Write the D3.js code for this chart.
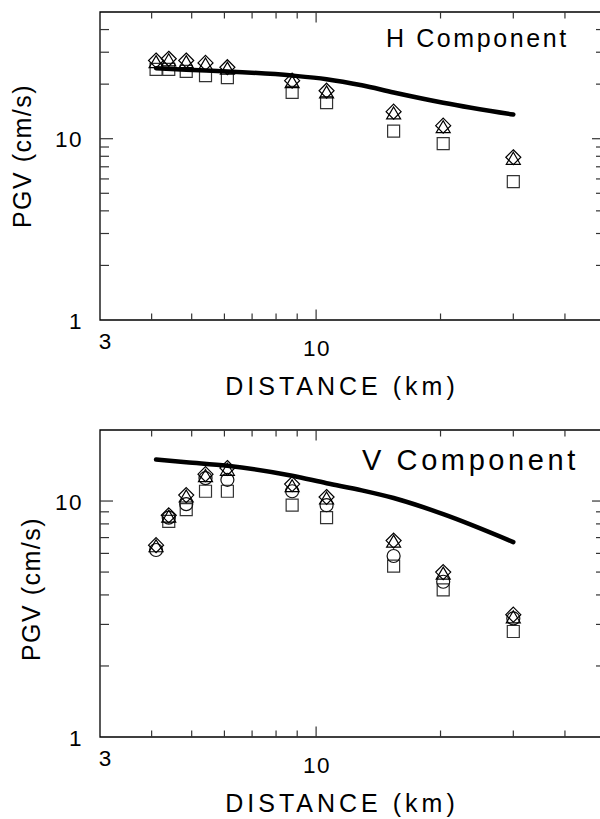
<!DOCTYPE html>
<html>
<head>
<meta charset="utf-8">
<script src="https://cdn.jsdelivr.net/npm/d3@7"></script>
<style>
  html, body { margin: 0; padding: 0; background: #fff; }
  svg { display: block; font-family: "Liberation Sans", Arial, sans-serif; }
</style>
</head>
<body>
<svg id="chart"></svg>
<script>
// station distances (km), shared by both panels
const distance = [4.1, 4.4, 4.85, 5.4, 6.1, 8.75, 10.6, 15.4, 20.3, 30.0]

// H component (cm/s)
const hDiamond  = [27.0, 27.6, 27.0, 26.2, 24.8, 20.9, 18.4, 14.1, 11.8, 7.9]
const hTriangle = [26.3, 26.9, 26.3, 25.5, 24.2, 20.4, 17.9, 13.7, 11.5, 7.7]
const hSquare   = [24.1, 24.1, 23.5, 22.3, 21.7, 18.0, 15.8, 11.0, 9.4, 5.8]

// V component (cm/s)
const vDiamond  = [6.5, 8.7, 10.6, 13.0, 13.8, 11.8, 10.4, 6.8, 5.0, 3.3]
const vTriangle = [6.4, 8.55, 10.4, 12.7, 13.5, 11.5, 10.2, 6.7, 4.9, 3.2]
const vCircle   = [6.2, 8.5, 9.7, 12.5, 12.3, 11.0, 9.6, 5.85, 4.55, 3.18]
const vSquare   = [null, 8.2, 9.2, 11.0, 11.0, 9.6, 8.5, 5.3, 4.2, 2.8]

// model curves
const curveDist = [4.1, 4.85, 6.1, 8.75, 10.6, 12.9, 15.4, 20.3, 30.0]
const hCurve = [24.5, 24.0, 23.5, 22.3, 21.3, 19.7, 18.0, 15.8, 13.6]
const vCurve = [15.0, 14.6, 14.1, 12.8, 11.9, 11.1, 10.3, 8.8, 6.7]

const xMinorTicks = [4, 5, 6, 7, 8, 9, 20, 30, 40]
const xMajorTicks = [10]
const xTickLabels = ['3', '10']
const hYMinorTicks = [2, 3, 4, 5, 6, 7, 8, 9, 20, 30, 40]
const vYMinorTicks = [2, 3, 4, 5, 6, 7, 8, 9]
const yMajorTicks = [10]
const yTickLabels = ['1', '10']

const width = 600
const height = 819

const svg = d3.select('svg#chart')
  .attr('width', width)
  .attr('height', height)

const x = d3.scaleLog().domain([3, 50]).range([100, 605])

const shapes = {
  diamond: 'M0,-7.5L7.5,0L0,7.5L-7.5,0Z',
  square: 'M-6,-6H6V6H-6Z',
  triangle: 'M0,-7L7,5L-7,5Z'
}

function panel(opts) {
  const y = d3.scaleLog().domain([1, opts.yMax]).range([opts.bottom, opts.top])
  const g = svg.append('g')
  const left = x.range()[0], right = x.range()[1]

  // frame
  g.append('path')
    .attr('d', `M${right},${opts.top}H${left}V${opts.bottom}H${right}`)
    .attr('fill', 'none')
    .attr('stroke', '#000')
    .attr('stroke-width', 1.3)

  // y ticks, left and right, inward
  const yt = opts.yMinor.map(v => ({ v, len: 9 })).concat(yMajorTicks.map(v => ({ v, len: 13 })))
  g.selectAll('.ytl').data(yt).enter().append('line')
    .attr('x1', left).attr('x2', d => left + d.len)
    .attr('y1', d => y(d.v)).attr('y2', d => y(d.v))
    .attr('stroke', '#333').attr('stroke-width', 1.2)
  g.selectAll('.ytr').data(yt).enter().append('line')
    .attr('x1', right).attr('x2', d => right - d.len)
    .attr('y1', d => y(d.v)).attr('y2', d => y(d.v))
    .attr('stroke', '#333').attr('stroke-width', 1.2)

  // x ticks, bottom and top, inward
  const xt = xMinorTicks.map(v => ({ v, len: 6.5 })).concat(xMajorTicks.map(v => ({ v, len: 10.5 })))
  g.selectAll('.xtb').data(xt).enter().append('line')
    .attr('x1', d => x(d.v)).attr('x2', d => x(d.v))
    .attr('y1', opts.bottom).attr('y2', d => opts.bottom - d.len)
    .attr('stroke', '#333').attr('stroke-width', 1.2)
  g.selectAll('.xtt').data(xt).enter().append('line')
    .attr('x1', d => x(d.v)).attr('x2', d => x(d.v))
    .attr('y1', opts.top).attr('y2', d => opts.top + d.len)
    .attr('stroke', '#333').attr('stroke-width', 1.2)

  // y tick labels
  g.selectAll('.ylab').data(yTickLabels).enter().append('text')
    .attr('x', 83)
    .attr('y', d => y(+d) + 8.5)
    .attr('text-anchor', 'end')
    .attr('font-size', 22.5)
    .attr('letter-spacing', 1.5)
    .text(d => d)

  // x tick labels
  g.append('text')
    .attr('x', x(+xTickLabels[0]) + 5)
    .attr('y', opts.bottom + 28.5)
    .attr('text-anchor', 'middle')
    .attr('font-size', 22.5)
    .text(xTickLabels[0])
  g.append('text')
    .attr('x', x(+xTickLabels[1]) + 1)
    .attr('y', opts.bottom + 35.5)
    .attr('text-anchor', 'middle')
    .attr('font-size', 22.5)
    .attr('letter-spacing', 1.5)
    .text(xTickLabels[1])

  // axis titles
  g.append('text')
    .attr('x', 342)
    .attr('y', opts.bottom + 75)
    .attr('text-anchor', 'middle')
    .attr('font-size', 25)
    .attr('letter-spacing', 4)
    .text('DISTANCE (km)')
  g.append('text')
    .attr('transform', `translate(${opts.ylabX},${opts.ylabY}) rotate(-90)`)
    .attr('text-anchor', 'middle')
    .attr('font-size', 25)
    .attr('letter-spacing', 1.5)
    .text('PGV (cm/s)')

  g.append('text')
    .attr('x', opts.titleX)
    .attr('y', opts.titleY)
    .attr('font-size', opts.titleSize)
    .attr('letter-spacing', opts.titleSpacing)
    .text(opts.title)

  // markers
  opts.series.forEach(s => {
    const pts = distance.map((d, i) => ({ d, v: s.values[i] })).filter(p => p.v != null)
    if (s.shape === 'circle') {
      g.selectAll(null).data(pts).enter().append('circle')
        .attr('cx', p => x(p.d)).attr('cy', p => y(p.v)).attr('r', 6.5)
        .attr('fill', 'none').attr('stroke', '#111').attr('stroke-width', 1.2)
    } else {
      g.selectAll(null).data(pts).enter().append('path')
        .attr('transform', p => `translate(${x(p.d)},${y(p.v)})`)
        .attr('d', shapes[s.shape])
        .attr('fill', 'none')
        .attr('stroke', s.shape === 'square' ? '#333' : '#000')
        .attr('stroke-width', 1.2)
    }
  })

  // model curve
  const line = d3.line()
    .x(p => x(p[0]))
    .y(p => y(p[1]))
    .curve(d3.curveMonotoneX)
  g.append('path')
    .attr('d', line(curveDist.map((d, i) => [d, opts.curve[i]])))
    .attr('fill', 'none')
    .attr('stroke', '#000')
    .attr('stroke-width', 4.5)
    .attr('stroke-linecap', 'round')
}

panel({
  top: 12, bottom: 320, yMax: 50,
  yMinor: hYMinorTicks,
  title: 'H Component', titleX: 386, titleY: 47, titleSize: 25, titleSpacing: 2.6,
  ylabX: 31, ylabY: 156,
  series: [
    { shape: 'square', values: hSquare },
    { shape: 'triangle', values: hTriangle },
    { shape: 'diamond', values: hDiamond }
  ],
  curve: hCurve
})

panel({
  top: 430, bottom: 737, yMax: 20,
  yMinor: vYMinorTicks,
  title: 'V Component', titleX: 362, titleY: 470, titleSize: 29, titleSpacing: 3.6,
  ylabX: 40, ylabY: 589,
  series: [
    { shape: 'square', values: vSquare },
    { shape: 'circle', values: vCircle },
    { shape: 'triangle', values: vTriangle },
    { shape: 'diamond', values: vDiamond }
  ],
  curve: vCurve
})
</script>
</body>
</html>
